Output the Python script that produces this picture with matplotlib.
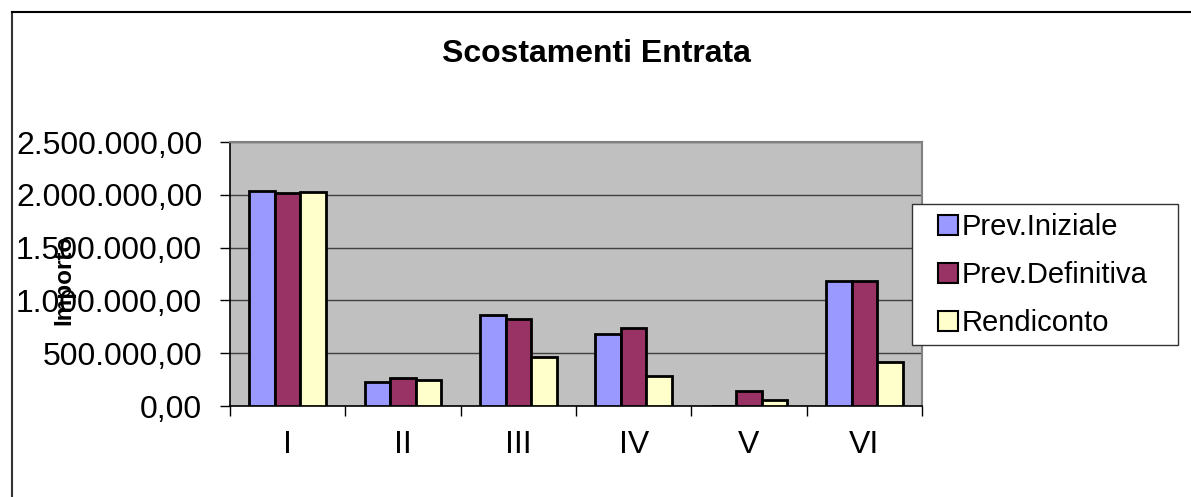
import matplotlib
matplotlib.use("Agg")
import matplotlib.pyplot as plt
import numpy as np
from matplotlib.ticker import FuncFormatter, FixedLocator
from matplotlib.lines import Line2D
from matplotlib.patches import Patch, Rectangle

plt.rcParams['font.family'] = ['Liberation Sans', 'DejaVu Sans']

categories = ["I", "II", "III", "IV", "V", "VI"]
series_names = ["Prev.Iniziale", "Prev.Definitiva", "Rendiconto"]
prev_iniziale = [2032000, 224000, 860000, 683000, 0, 1179000]
prev_definitiva = [2020000, 265000, 825000, 736000, 139000, 1179000]
rendiconto = [2023000, 247000, 468000, 281000, 60000, 420000]
colors = ["#9999FF", "#993366", "#FFFFCC"]
title = "Scostamenti Entrata"
ylabel = "Importo"

W, H = 1191, 497
fig = plt.figure(figsize=(W / 100, H / 100), dpi=100)
fig.patch.set_facecolor("white")

ax = fig.add_axes([230 / W, 1 - 406 / H, (922 - 230) / W, (406 - 142) / H])
ax.set_facecolor("#C0C0C0")

x = np.arange(len(categories))
bw = 2 / 9
for i, (vals, c, name) in enumerate(zip([prev_iniziale, prev_definitiva, rendiconto], colors, series_names)):
    ax.bar(x + (i - 1) * bw, vals, width=bw, color=c, edgecolor="black",
           linewidth=2.0, label=name, zorder=3)

ax.set_xlim(-0.5, len(categories) - 0.5)
ax.set_ylim(0, 2500000)
yt = np.arange(0, 2500001, 500000)
ax.set_yticks(yt)

def fmt(v, pos):
    s = f"{v:,.2f}"
    return s.replace(",", "X").replace(".", ",").replace("X", ".")

ax.yaxis.set_major_formatter(FuncFormatter(fmt))
ax.grid(axis="y", color="#404040", linewidth=1.0, zorder=1)
ax.set_axisbelow(True)

# x ticks: labels at centers, tick marks at boundaries
ax.set_xticks(x)
ax.set_xticklabels(categories, fontsize=23)
ax.tick_params(axis="x", which="major", length=0, pad=17)
ax.xaxis.set_minor_locator(FixedLocator(np.arange(-0.5, len(categories), 1.0)))
ax.tick_params(axis="x", which="minor", length=7, width=1, color="black", direction="out")
ax.tick_params(axis="y", length=7, width=1, color="black", direction="out", labelsize=23, pad=13)

for s in ["top", "right"]:
    ax.spines[s].set_color("#808080")
    ax.spines[s].set_linewidth(1.5)
for s in ["left", "bottom"]:
    ax.spines[s].set_color("black")
    ax.spines[s].set_linewidth(1.2)

fig.text(596 / W, 1 - 54 / H, title, ha="center", va="center",
         fontsize=23, fontweight="bold")
fig.text(64 / W, 1 - 280 / H, ylabel, ha="center", va="center",
         rotation=90, fontsize=17.5, fontweight="bold")

# legend box
fig.add_artist(Rectangle((912 / W, 1 - 345 / H), (1178 - 912) / W, (345 - 204) / H,
                         transform=fig.transFigure, facecolor="white",
                         edgecolor="#333333", linewidth=1.0, zorder=9))
handles = [Patch(facecolor=c, edgecolor="black", linewidth=1.5) for c in colors]
leg = fig.legend(handles, series_names, loc="upper left",
                 bbox_to_anchor=(938 / W, 1 - 213 / H), bbox_transform=fig.transFigure,
                 fontsize=21, frameon=False,
                 handlelength=0.68, handleheight=0.68, handletextpad=0.12,
                 labelspacing=0.69, borderpad=0, borderaxespad=0)
leg.set_zorder(10)

# outer chart frame (top and left edges visible)
fig.add_artist(Line2D([11.5 / W, 11.5 / W], [0, 1 - 12 / H], transform=fig.transFigure,
                      color="#333333", linewidth=1.5))
fig.add_artist(Line2D([11.5 / W, 1], [1 - 12 / H, 1 - 12 / H], transform=fig.transFigure,
                      color="black", linewidth=1.5))

fig.savefig("out.png", dpi=100, facecolor="white")
